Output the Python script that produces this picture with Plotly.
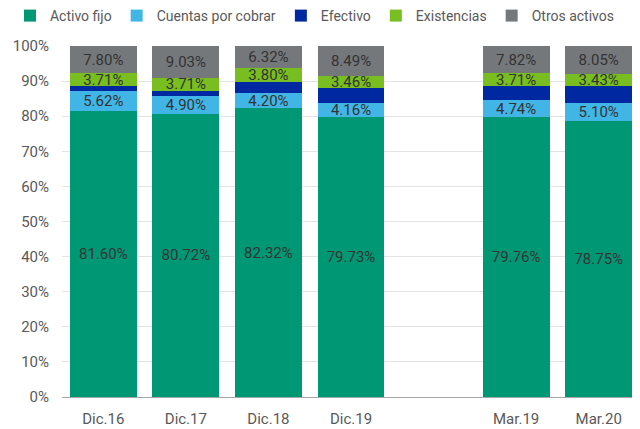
import plotly.graph_objects as go

categories = ["Dic.16", "Dic.17", "Dic.18", "Dic.19", " ", "Mar.19", "Mar.20"]
activo_fijo = [81.60, 80.72, 82.32, 79.73, None, 79.76, 78.75]
cuentas = [5.62, 4.90, 4.20, 4.16, None, 4.74, 5.10]
efectivo = [1.27, 1.64, 3.36, 4.16, None, 3.97, 4.67]
existencias = [3.71, 3.71, 3.80, 3.46, None, 3.71, 3.43]
otros = [7.80, 9.03, 6.32, 8.49, None, 7.82, 8.05]

series = [
    ("Activo fijo", activo_fijo, "#009775", True),
    ("Cuentas por cobrar", cuentas, "#41B6E6", True),
    ("Efectivo", efectivo, "#0028A0", False),
    ("Existencias", existencias, "#78BE20", True),
    ("Otros activos", otros, "#75787B", True),
]

FONT = "Roboto, sans-serif"

fig = go.Figure()
for name, vals, color, show in series:
    txt = [(f"{v:.2f}%" if (v is not None and show) else "") for v in vals]
    fig.add_trace(go.Bar(
        x=categories, y=vals, name=name, marker=dict(color=color, line=dict(width=0)),
        text=txt, textposition="inside", insidetextanchor="middle",
        textfont=dict(color="#333333", size=15), hoverinfo="skip",
    ))

fig.update_layout(
    barmode="stack", bargap=0.19,
    width=640, height=429,
    margin=dict(l=54, r=8, t=38, b=40, autoexpand=False),
    paper_bgcolor="white", plot_bgcolor="white",
    font=dict(family=FONT, size=15, color="#595959"),
    uniformtext=dict(minsize=15, mode="show"),
    legend=dict(orientation="h", x=-0.09, xanchor="left", y=1.0855, yanchor="middle",
                font=dict(size=14, color="#595959"), traceorder="normal",
                itemwidth=30, tracegroupgap=0),
    xaxis=dict(type="category", showline=True, linecolor="#A6A6A6", linewidth=1,
               ticks="", showgrid=False, automargin=False, ticklabelstandoff=8),
    yaxis=dict(range=[0, 100], dtick=10, ticksuffix="%", showgrid=True,
               gridcolor="#E3E3E3", gridwidth=1, zeroline=False, ticks="",
               fixedrange=True, automargin=False, ticklabelstandoff=12),
)

fig.write_html("out.html")
